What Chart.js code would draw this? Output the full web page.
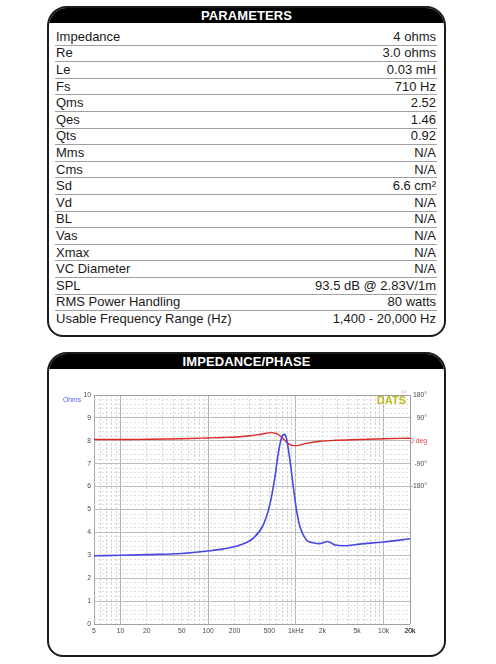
<!DOCTYPE html>
<html><head><meta charset="utf-8">
<script src="https://cdn.jsdelivr.net/npm/chart.js@4.4.1/dist/chart.umd.min.js"></script>
<style>
html,body{margin:0;padding:0;background:#fff;width:496px;height:664px;overflow:hidden;font-family:"Liberation Sans",Arial,sans-serif;}
.box{position:absolute;left:47px;width:395px;border:2px solid #1c1c1c;border-radius:20px 20px 16px 16px;overflow:hidden;background:#fff;}
.bar{height:15px;background:#000;color:#fff;font-weight:bold;font-size:13px;line-height:15px;text-align:center;letter-spacing:0.1px;}
#rows{position:absolute;left:6px;top:21px;width:382px;}
.row{box-sizing:border-box;height:16.6px;display:flex;justify-content:space-between;align-items:center;padding:0 1px;font-size:13px;color:#1a1a1a;border-bottom:1px solid #a0a0a0;line-height:16px;}
.row:last-child{border-bottom:none;}
#c{position:absolute;left:50px;top:372px;}
</style></head>
<body>
<div class="box" style="top:6px;height:327px;"><div class="bar">PARAMETERS</div><div id="rows"></div></div>
<div class="box" style="top:352px;height:301px;"><div class="bar">IMPEDANCE/PHASE</div></div>
<canvas id="c" width="392" height="280"></canvas>
<script>
// Parameter table
const paramNames = ["Impedance","Re","Le","Fs","Qms","Qes","Qts","Mms","Cms","Sd","Vd","BL","Vas","Xmax","VC Diameter","SPL","RMS Power Handling","Usable Frequency Range (Hz)"];
const paramValues = ["4 ohms","3.0 ohms","0.03 mH","710 Hz","2.52","1.46","0.92","N/A","N/A","6.6 cm\u00B2","N/A","N/A","N/A","N/A","N/A","93.5 dB @ 2.83V/1m","80 watts","1,400 - 20,000 Hz"];

// Impedance curve (Hz, ohms)
const impFreq = [5,10,20,50,100,150,230,325,424,504,574,626,684,735,780,850,930,1010,1100,1320,1570,1880,2300,2500,2800,3650,5350,10000,20000];
const impOhms = [2.98,3.0,3.03,3.08,3.19,3.28,3.45,3.74,4.32,5.2,6.36,7.38,8.11,8.28,8.11,7.24,6.07,5.05,4.32,3.67,3.55,3.51,3.6,3.55,3.45,3.42,3.49,3.58,3.72];

// Phase curve (Hz, degrees)
const phaseFreq = [5,10,20,50,100,150,230,300,400,528,600,684,735,810,950,1100,1320,1880,2800,5350,10000,20000];
const phaseDeg = [5,5,6,8,11,13,16,20,26,32,28,16,4,-10,-19,-17,-10,-2,2,5,8,10];

// Axis tick labels
const xLabelValues = [5,10,20,50,100,200,500,1000,2000,5000,10000,20000];
const xLabelTexts = ["5","10","20","50","100","200","500","1kHz","2k","5k","10k","20k"];
const phaseTickValues = [180,90,0,-90,-180];
const phaseTickTexts = ["180\u00B0","90\u00B0","0 deg","-90\u00B0","-180\u00B0"];

const rowsEl = document.getElementById('rows');
paramNames.forEach((n,i)=>{
  const r=document.createElement('div');r.className='row';
  const a=document.createElement('span');a.textContent=n;
  const b=document.createElement('span');b.textContent=paramValues[i];
  r.appendChild(a);r.appendChild(b);rowsEl.appendChild(r);
});

// grid positions
const xGrid=[];
for(let d=1;d<=10000;d*=10){for(let m=1;m<10;m++){const v=m*d;if(v>=5&&v<=20000)xGrid.push(v);}}
xGrid.push(20000);
const yGrid=[];for(let i=0;i<=50;i++)yGrid.push(Math.round(i*2)/10);

const isDecade=v=>[10,100,1000,10000].includes(v);
const isInt=v=>Math.abs(v-Math.round(v))<1e-6;
const tickFont={family:'"Liberation Sans", Arial, sans-serif',size:6.8};

const overlay={id:'overlay',afterDraw(ch){
  const c=ch.ctx,a=ch.chartArea;c.save();
  c.font='6.8px "Liberation Sans", Arial, sans-serif';c.fillStyle='#5a5af0';c.textAlign='left';c.textBaseline='middle';
  c.fillText('Ohms',a.left-31,a.top+5);
  c.font='bold 11px "Liberation Sans", Arial, sans-serif';c.fillStyle='#bcbc22';c.textAlign='right';
  c.fillText('DATS',a.right-4,a.top+6);
  c.font='4px "Liberation Sans", Arial, sans-serif';c.fillStyle='#999';
  c.fillText('(c)',a.right-4,a.top-3);
  c.restore();
}};

new Chart(document.getElementById('c'),{
  type:'scatter',
  data:{datasets:[
    {label:'Impedance',data:impFreq.map((f,i)=>({x:f,y:impOhms[i]})),showLine:true,borderColor:'rgb(72,72,228)',borderWidth:1.6,pointRadius:0,cubicInterpolationMode:'monotone',yAxisID:'y'},
    {label:'Phase',data:phaseFreq.map((f,i)=>({x:f,y:phaseDeg[i]})),showLine:true,borderColor:'rgb(222,40,40)',borderWidth:1.4,pointRadius:0,cubicInterpolationMode:'monotone',yAxisID:'y2'}
  ]},
  options:{
    responsive:false,animation:false,
    layout:{padding:{top:23,left:0,right:15,bottom:0}},
    plugins:{legend:{display:false},tooltip:{enabled:false}},
    scales:{
      x:{type:'logarithmic',min:5,max:20000,
        afterBuildTicks:s=>{s.ticks=xGrid.map(v=>({value:v}));},
        afterFit:s=>{s.height=28;},
        grid:{drawTicks:false,color:c=>{const v=c.tick&&c.tick.value;if(v===5||v===20000)return '#a0a0a0';return isDecade(v)?'#b4b4b4':'#d2d2d2';},lineWidth:1},
        border:{display:false,dash:c=>{const v=c.tick&&c.tick.value;if(v===undefined||v===5||v===20000||isDecade(v))return [];return [2,2];}},
        ticks:{autoSkip:false,maxRotation:0,minRotation:0,padding:3,color:'#4a4a4a',font:tickFont,
          callback:(v)=>{const i=xLabelValues.indexOf(v);return i>=0?xLabelTexts[i]:'';}}
      },
      y:{type:'linear',position:'left',min:0,max:10,
        afterBuildTicks:s=>{s.ticks=yGrid.map(v=>({value:v}));},
        afterFit:s=>{s.width=44;},
        grid:{drawTicks:false,color:c=>{const v=c.tick?c.tick.value:0;if(v===0||v===10)return '#a0a0a0';return isInt(v)?'#bcbcbc':'#dedede';}},
        border:{display:false,dash:c=>{const v=c.tick?c.tick.value:0;return isInt(v)?[]:[2,2];}},
        ticks:{autoSkip:false,padding:3,color:'#4a4a4a',font:tickFont,callback:v=>isInt(v)?String(Math.round(v)):''}
      },
      y2:{type:'linear',position:'right',min:-720,max:180,
        afterBuildTicks:s=>{s.ticks=phaseTickValues.map(v=>({value:v}));},
        afterFit:s=>{s.width=17;},
        grid:{display:false,drawTicks:false},
        border:{display:false},
        ticks:{autoSkip:false,padding:2,crossAlign:'far',font:tickFont,
          color:c=>c.tick&&c.tick.value===0?'#d84848':'#4a4a4a',
          callback:v=>{const i=phaseTickValues.indexOf(v);return i>=0?phaseTickTexts[i]:'';}}
      }
    }
  },
  plugins:[overlay]
});
</script>
</body></html>
